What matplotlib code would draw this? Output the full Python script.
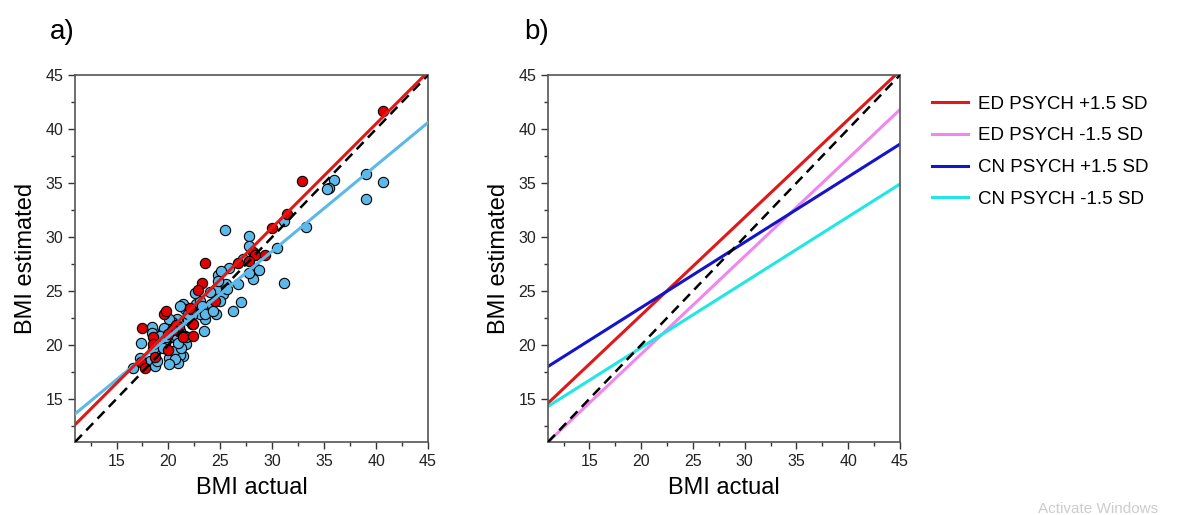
import matplotlib.pyplot as plt
from matplotlib.ticker import MultipleLocator

plt.rcParams['font.family'] = ['Liberation Sans', 'DejaVu Sans']

# panel a) scatter data (BMI actual, BMI estimated)
ed_actual = [40.7, 32.9, 31.4, 30.0, 28.1, 28.3, 29.3, 27.8, 26.7, 23.5,
             23.2, 22.8, 24.5, 22.1, 19.6, 19.8, 22.4, 20.7, 21.0, 20.4,
             20.0, 21.4, 22.4, 17.5, 18.5, 18.5, 20.0, 18.7, 17.4, 17.7]
ed_estimated = [41.7, 35.2, 32.1, 30.8, 28.6, 28.3, 28.3, 27.8, 27.6, 27.6,
                25.7, 25.1, 24.1, 23.4, 22.9, 23.1, 21.9, 21.8, 21.7, 21.4,
                21.0, 20.7, 20.8, 21.6, 20.7, 20.1, 19.5, 18.9, 18.4, 17.9]

cn_actual = [39.0, 40.7, 39.0, 35.9, 35.5, 35.3, 31.1, 33.2, 30.5, 25.4,
             27.8, 27.8, 28.4, 28.1, 27.8, 31.1, 27.0, 26.2, 25.8, 24.8,
             25.5, 25.3, 24.6, 25.0, 24.0, 24.6, 23.5, 23.4, 22.7, 23.0,
             23.6, 22.3, 21.9, 21.4, 21.6, 20.8, 20.3, 21.1, 21.6, 21.7,
             21.4, 21.1, 20.9, 20.1, 20.5, 19.7, 19.5, 19.6, 18.4, 18.4,
             17.4, 18.5, 17.3, 18.2, 18.7, 16.6, 20.1, 20.5, 21.9, 23.0,
             22.6, 24.1, 25.6, 26.7, 27.2, 22.3, 20.8, 19.8, 21.2, 19.2,
             20.6, 21.1, 22.2, 23.2, 23.5, 24.3, 20.3, 20.9, 21.7, 19.5,
             18.9, 20.1, 24.8, 25.1, 28.7]
cn_estimated = [35.8, 35.1, 33.5, 35.3, 34.5, 34.4, 31.5, 30.9, 29.0, 30.6,
                30.1, 29.2, 27.0, 26.1, 26.7, 25.7, 24.0, 23.1, 27.1, 26.5,
                25.6, 24.7, 25.2, 24.1, 24.9, 22.9, 22.4, 21.3, 23.8, 22.9,
                23.5, 22.8, 22.3, 23.8, 23.3, 22.4, 22.1, 21.3, 20.8, 20.1,
                19.0, 19.1, 18.3, 18.8, 19.4, 20.2, 21.3, 21.6, 21.7, 21.1,
                20.2, 19.6, 18.8, 18.5, 18.0, 17.9, 22.4, 20.7, 22.9, 24.1,
                24.8, 23.8, 25.2, 25.6, 28.0, 21.9, 20.7, 20.7, 19.7, 20.8,
                18.7, 23.6, 23.3, 23.6, 22.9, 23.1, 21.4, 20.2, 20.7, 19.7,
                18.5, 18.2, 25.9, 26.8, 26.9]

# fitted lines, values at x = 11 and x = 45
line_x = [11, 45]
ed_fit = [12.6, 45.3]
cn_fit = [13.6, 40.6]

# panel b) simple slopes at +/-1.5 SD
slope_labels = ['ED PSYCH +1.5 SD', 'ED PSYCH -1.5 SD',
                'CN PSYCH +1.5 SD', 'CN PSYCH -1.5 SD']
slope_values = [[14.6, 45.4], [11.0, 41.8], [18.0, 38.6], [14.3, 34.9]]
slope_colors = ['#e01818', '#ee88ee', '#1414c8', '#22e6e6']

fig = plt.figure(figsize=(11.96, 5.15), dpi=100)
ax1 = fig.add_axes([0.0627, 0.1417, 0.2952, 0.7126])
ax2 = fig.add_axes([0.4582, 0.1417, 0.2943, 0.7126])


def style(ax):
    ax.set_xlim(11, 45)
    ax.set_ylim(11, 45)
    ax.xaxis.set_major_locator(MultipleLocator(5))
    ax.xaxis.set_minor_locator(MultipleLocator(2.5))
    ax.yaxis.set_major_locator(MultipleLocator(5))
    ax.yaxis.set_minor_locator(MultipleLocator(2.5))
    ax.tick_params(which='major', direction='out', length=5, width=1,
                   labelsize=11.5, color='#333333', labelcolor='#222222')
    ax.tick_params(which='minor', direction='out', length=3, width=1,
                   color='#333333')
    for s in ax.spines.values():
        s.set_color('#555555')
        s.set_linewidth(1.2)
    ax.set_xlabel('BMI actual', fontsize=17, labelpad=6)
    ax.set_ylabel('BMI estimated', fontsize=17, labelpad=6)


# panel a
ax1.plot(line_x, line_x, color='black', ls=(0, (4, 2.5)), lw=1.8, zorder=4)
ax1.scatter(cn_actual, cn_estimated, s=55, color='#5cb8e8',
            edgecolor='black', linewidth=0.8, zorder=2)
ax1.scatter(ed_actual, ed_estimated, s=55, color='#e00000',
            edgecolor='black', linewidth=0.8, zorder=3)
ax1.plot(line_x, cn_fit, color='#5cb8e8', lw=2.2, zorder=5)
ax1.plot(line_x, ed_fit, color='#e01818', lw=2.2, zorder=6)
style(ax1)

# panel b
ax2.plot(line_x, line_x, color='black', ls=(0, (4, 2.5)), lw=1.8, zorder=4)
for lab, vals, col in zip(slope_labels, slope_values, slope_colors):
    ax2.plot(line_x, vals, color=col, lw=2.2, label=lab)
style(ax2)
ax2.legend(loc='upper left', bbox_to_anchor=(1.043, 0.99), frameon=False,
           fontsize=13.5, handlelength=1.9, handletextpad=0.55,
           labelspacing=0.78)

fig.text(0.042, 0.925, 'a)', fontsize=20)
fig.text(0.438, 0.925, 'b)', fontsize=20)
fig.text(0.868, 0.004, 'Activate Windows', fontsize=11, color='#cccccc')

fig.savefig('out.png', dpi=100)
